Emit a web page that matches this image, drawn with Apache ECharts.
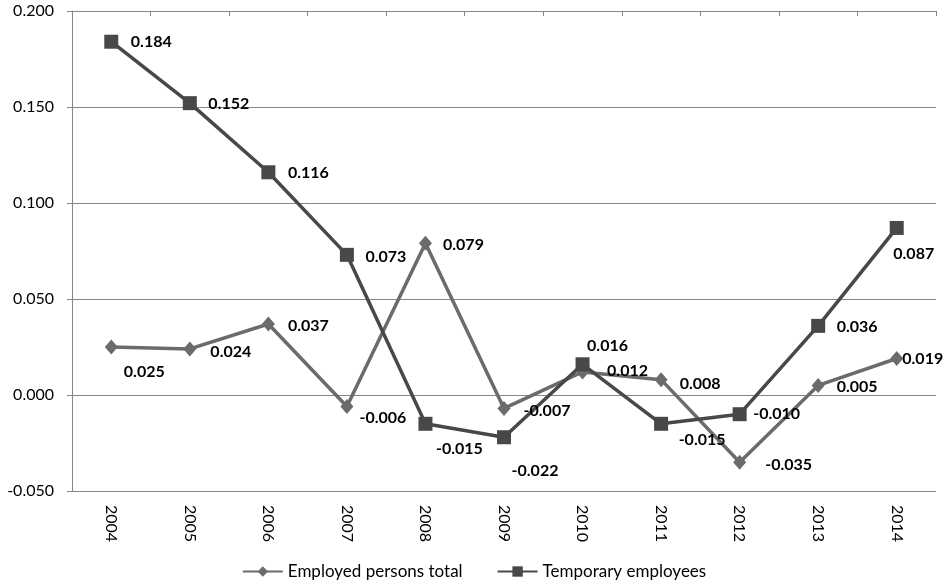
<!DOCTYPE html>
<html>
<head>
<meta charset="utf-8">
<title>Employment change</title>
<script src="https://cdn.jsdelivr.net/npm/echarts@6/dist/echarts.min.js"></script>
<style>
  html, body { margin: 0; padding: 0; background: #fff; }
  #chart-container { width: 948px; height: 585px; }
</style>
</head>
<body>
<div id="chart-container"></div>
<script>
// chart data
const years = ["2004", "2005", "2006", "2007", "2008", "2009", "2010", "2011", "2012", "2013", "2014"];
const employedTotal = [0.025, 0.024, 0.037, -0.006, 0.079, -0.007, 0.012, 0.008, -0.035, 0.005, 0.019];
const temporaryEmployees = [0.184, 0.152, 0.116, 0.073, -0.015, -0.022, 0.016, -0.015, -0.010, 0.036, 0.087];
const seriesNames = ["Employed persons total", "Temporary employees"];

// where each value label sits, relative to its point (label centre offset in px)
const employedLabelShift = [[33, 25], [41, 3], [40, 2], [36, 11], [38, 2], [43, 2], [45, -1], [39, 4], [49, 3], [39, 1], [26, 0]];
const temporaryLabelShift = [[40, 0], [39, 1], [40, 1], [39, 2], [34, 25], [31, 34], [25, -18], [41, 16], [37, 0], [39, 1], [17, 26]];

const font = "Lato, 'Open Sans', sans-serif";
const gridColor = "#868686";

function withLabels(values, shifts) {
  return values.map((v, i) => ({
    value: v,
    label: { offset: shifts[i] },
  }));
}

const labelStyle = {
  show: true,
  position: "inside",
  color: "#000",
  fontFamily: font,
  fontWeight: "bold",
  fontSize: 16,
  formatter: (p) => p.value.toFixed(3),
};

const dom = document.getElementById("chart-container");
const myChart = echarts.init(dom, null, { renderer: "canvas" });

const option = {
  animation: false,
  backgroundColor: "#fff",
  grid: { left: 72, right: 12, top: 11, bottom: 94, containLabel: false },
  legend: {
    bottom: 0,
    left: "center",
    itemWidth: 40,
    itemHeight: 13,
    itemGap: 34,
    textStyle: { color: "#000", fontFamily: font, fontSize: 17 },
    data: seriesNames,
  },
  xAxis: [
    {
      type: "category",
      data: years,
      position: "bottom",
      axisLine: { show: false },
      axisTick: { show: false },
      axisLabel: {
        rotate: -90,
        margin: 14,
        color: "#000",
        fontFamily: font,
        fontSize: 16,
      },
    },
    {
      type: "category",
      data: years,
      position: "top",
      axisLine: { onZero: true, lineStyle: { color: gridColor, width: 1 } },
      axisTick: { show: true, inside: true, length: 5, lineStyle: { color: gridColor } },
      axisLabel: { show: false },
    },
  ],
  yAxis: {
    type: "value",
    min: -0.05,
    max: 0.2,
    interval: 0.05,
    axisLine: { show: true, lineStyle: { color: gridColor, width: 1 } },
    axisTick: { show: true, length: 5, lineStyle: { color: gridColor } },
    axisLabel: {
      margin: 18,
      color: "#000",
      fontFamily: font,
      fontSize: 16,
      formatter: (v) => v.toFixed(3),
    },
    splitLine: { lineStyle: { color: gridColor, width: 1 } },
  },
  series: [
    {
      name: seriesNames[0],
      type: "line",
      xAxisIndex: 0,
      data: withLabels(employedTotal, employedLabelShift),
      symbol: "diamond",
      symbolSize: [13, 15],
      color: "#6b6b6b",
      lineStyle: { color: "#6b6b6b", width: 3.5 },
      itemStyle: { color: "#6b6b6b" },
      label: labelStyle,
    },
    {
      name: seriesNames[1],
      type: "line",
      xAxisIndex: 0,
      data: withLabels(temporaryEmployees, temporaryLabelShift),
      symbol: "rect",
      symbolSize: 14,
      color: "#484848",
      lineStyle: { color: "#484848", width: 3.5 },
      itemStyle: { color: "#484848" },
      label: labelStyle,
    },
  ],
};

myChart.setOption(option);
</script>
</body>
</html>
